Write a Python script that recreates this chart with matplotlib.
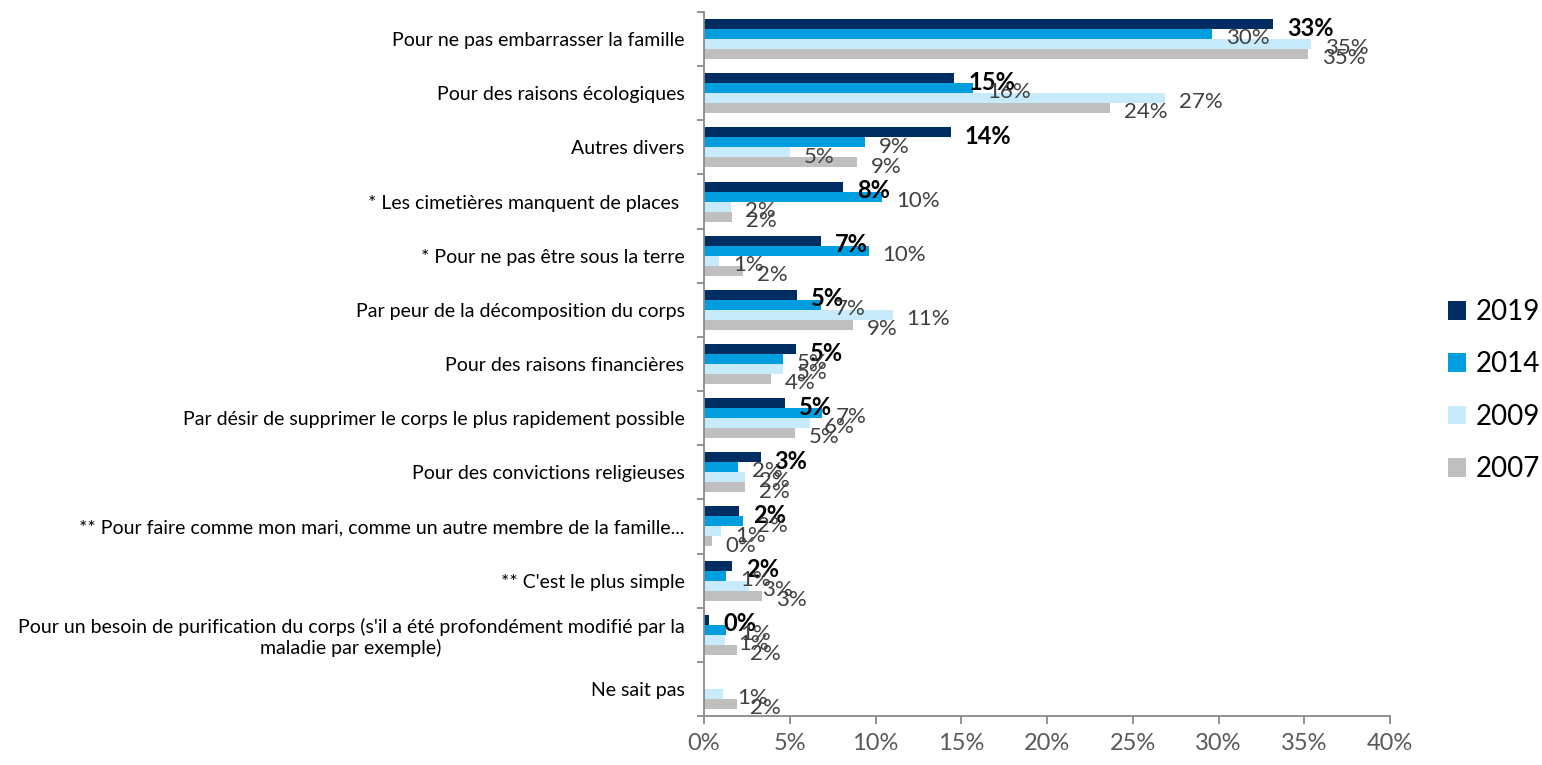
"""Raisons du choix de la crémation : comparaison 2007 / 2009 / 2014 / 2019."""

import matplotlib
import numpy as np

matplotlib.use("Agg")
import matplotlib.pyplot as plt  # noqa: E402
from matplotlib.patches import Patch  # noqa: E402

plt.rcParams["font.family"] = ["Lato", "DejaVu Sans"]

categories = [
    "Pour ne pas embarrasser la famille",
    "Pour des raisons écologiques",
    "Autres divers",
    "* Les cimetières manquent de places ",
    "* Pour ne pas être sous la terre",
    "Par peur de la décomposition du corps",
    "Pour des raisons financières",
    "Par désir de supprimer le corps le plus rapidement possible",
    "Pour des convictions religieuses",
    "** Pour faire comme mon mari, comme un autre membre de la famille...",
    "** C'est le plus simple",
    "Pour un besoin de purification du corps (s'il a été profondément modifié par la\nmaladie par exemple)",
    "Ne sait pas",
]
years = ["2019", "2014", "2009", "2007"]
v2019 = [33.2, 14.6, 14.4, 8.1, 6.8, 5.4, 5.35, 4.7, 3.3, 2.06, 1.65, 0.3, np.nan]
v2014 = [29.6, 15.7, 9.4, 10.4, 9.6, 6.8, 4.6, 6.9, 2.0, 2.3, 1.3, 1.3, np.nan]
v2009 = [35.4, 26.9, 5.0, 1.6, 0.9, 11.0, 4.6, 6.2, 2.4, 1.0, 2.6, 1.2, 1.1]
v2007 = [35.2, 23.7, 8.9, 1.65, 2.3, 8.7, 3.9, 5.3, 2.4, 0.45, 3.4, 1.9, 1.9]
series = [v2019, v2014, v2009, v2007]
colors = ["#002D62", "#009DDF", "#C8EBFB", "#BFBFBF"]
x_ticks = [0, 5, 10, 15, 20, 25, 30, 35, 40]

GRAY_AXIS = "#898989"
GRAY_TEXT = "#595959"
LABEL_TEXT = "#404040"


def main() -> None:
    fig = plt.figure(figsize=(15.42, 7.65), dpi=100)
    ax = fig.add_axes([704 / 1542, 1 - 716 / 765, (1390 - 704) / 1542, (716 - 12) / 765])

    y = np.arange(len(categories))
    h = 0.185
    offsets = [-1.5 * h, -0.5 * h, 0.5 * h, 1.5 * h]

    for k, (vals, col, off) in enumerate(zip(series, colors, offsets)):
        vals = np.asarray(vals, dtype=float)
        ax.barh(y + off, vals, height=h, color=col, edgecolor="none")
        for yi, v in zip(y, vals):
            if np.isnan(v):
                continue
            if k == 0:
                ax.annotate(f"{v:.0f}%", (v, yi + off), xytext=(10, -3),
                            textcoords="offset points", va="center", ha="left",
                            fontsize=17, fontweight="bold", color="black")
            else:
                ax.annotate(f"{v:.0f}%", (v, yi + off), xytext=(10, -3),
                            textcoords="offset points", va="center", ha="left",
                            fontsize=16, color=LABEL_TEXT)

    ax.set_xlim(0, 40)
    ax.set_ylim(len(categories) - 0.5, -0.5)
    ax.set_xticks(x_ticks)
    ax.set_xticklabels([f"{t}%" for t in x_ticks])
    ax.set_yticks(y)
    ax.set_yticklabels(categories, multialignment="center")
    ax.set_yticks(np.arange(len(categories) + 1) - 0.5, minor=True)

    for s in ("top", "right"):
        ax.spines[s].set_visible(False)
    for s in ("left", "bottom"):
        ax.spines[s].set_color(GRAY_AXIS)
        ax.spines[s].set_linewidth(1.3)

    ax.tick_params(axis="y", which="major", length=0, pad=14, labelsize=14, labelcolor="black")
    ax.tick_params(axis="y", which="minor", length=5, width=1.3, color=GRAY_AXIS)
    ax.tick_params(axis="x", length=6, width=1.3, color=GRAY_AXIS, pad=6,
                   labelsize=17, labelcolor=GRAY_TEXT)

    handles = [Patch(facecolor=c, edgecolor="none", label=yr) for c, yr in zip(colors, years)]
    fig.legend(handles=handles, loc="upper left", bbox_to_anchor=(1437 / 1542, 1 - 288 / 765),
               frameon=False, fontsize=20, handlelength=0.65, handleheight=0.65,
               handletextpad=0.35, labelspacing=0.95, borderaxespad=0)

    fig.savefig("out.png", dpi=100)


if __name__ == "__main__":
    main()
